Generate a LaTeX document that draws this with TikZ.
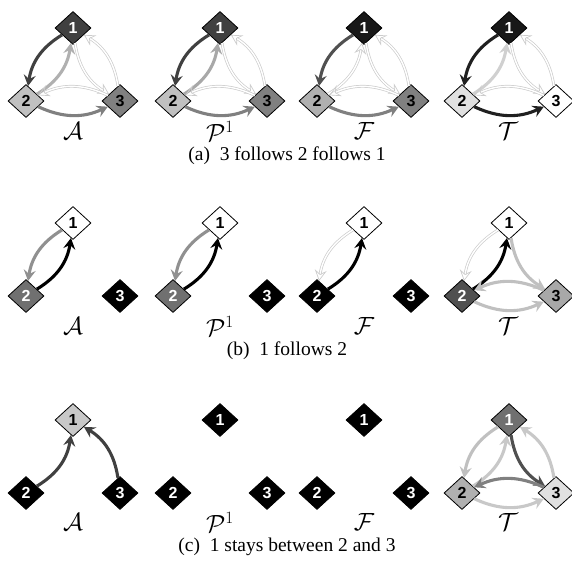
\documentclass[tikz,border=0pt]{standalone}
\usepackage{fontspec}
\setmainfont{Liberation Serif}
\setsansfont{Liberation Sans}
\usetikzlibrary{shapes.geometric,arrows.meta}
\definecolor{gA}{HTML}{404040}
\definecolor{gB}{HTML}{C0C0C0}
\definecolor{gC}{HTML}{808080}
\definecolor{gD}{HTML}{181818}
\definecolor{gE}{HTML}{E0E0E0}
\definecolor{gF}{HTML}{707070}
\definecolor{gG}{HTML}{505050}
\definecolor{gH}{HTML}{A8A8A8}
\definecolor{gI}{HTML}{B0B0B0}
\definecolor{gJ}{HTML}{C8C8C8}
\definecolor{gK}{HTML}{909090}
\definecolor{gL}{HTML}{D0D0D0}
\definecolor{gM}{HTML}{202020}
\newcommand\trio[6]{%
  \node[nd,#4] (#1-1) at (73+#2,28+#3) {1};
  \node[nd,#5] (#1-2) at (26+#2,101+#3) {2};
  \node[nd,#6] (#1-3) at (120+#2,101+#3) {3};}
\begin{document}
\begin{tikzpicture}[x=1pt,y=-1pt,
  nd/.style={diamond,draw=black,line width=0.8pt,inner sep=0pt,minimum width=36pt,minimum height=33pt,font=\sffamily\bfseries\fontsize{16}{16}\selectfont},
  dk/.style={fill=#1,text=white},
  lt/.style={fill=#1,text=black},
  ed/.style={line width=3.1pt,-{Stealth[length=11pt,width=12pt,inset=4pt]},bend right=25},
  weak/.style={draw=black!20,double=white,double distance=1.4pt,line width=0.7pt,-{Stealth[length=11pt,width=12pt,inset=4pt,open]},bend right=25},
  lbl/.style={font=\fontsize{23}{23}\selectfont},
  captext/.style={font=\fontsize{19.5}{19.5}\selectfont}]
\useasboundingbox (0,0) rectangle (572,578);
% ---------- row (a)
\trio{aA}{0}{0}{dk=gA}{lt=gB}{lt=gC}
\trio{aP}{147}{0}{dk=gA}{lt=gB}{lt=gC}
\trio{aF}{291}{0}{dk=gD}{lt=gI}{lt=gC}
\trio{aT}{436}{0}{dk=gD}{lt=gE}{lt=white}
\draw[ed,draw=gA] (aA-1) to (aA-2);
\draw[ed,draw=gI] (aA-2) to (aA-1);
\draw[weak] (aA-1) to (aA-3);
\draw[weak] (aA-3) to (aA-1);
\draw[ed,draw=gC] (aA-2) to (aA-3);
\draw[weak] (aA-3) to (aA-2);
\draw[ed,draw=gA] (aP-1) to (aP-2);
\draw[ed,draw=gH] (aP-2) to (aP-1);
\draw[weak] (aP-1) to (aP-3);
\draw[weak] (aP-3) to (aP-1);
\draw[ed,draw=gC] (aP-2) to (aP-3);
\draw[weak] (aP-3) to (aP-2);
\draw[ed,draw=gG] (aF-1) to (aF-2);
\draw[weak] (aF-2) to (aF-1);
\draw[weak] (aF-1) to (aF-3);
\draw[weak] (aF-3) to (aF-1);
\draw[ed,draw=gC] (aF-2) to (aF-3);
\draw[weak] (aF-3) to (aF-2);
\draw[ed,draw=gM] (aT-1) to (aT-2);
\draw[ed,draw=gL] (aT-2) to (aT-1);
\draw[weak] (aT-1) to (aT-3);
\draw[weak] (aT-3) to (aT-1);
\draw[ed,draw=gM] (aT-2) to (aT-3);
\draw[weak] (aT-3) to (aT-2);
\node[lbl] (laA) at (73,131) {$\mathcal{A}$};
\node[lbl] (laP) at (220,131) {$\mathcal{P}^1$};
\node[lbl] (laF) at (364,131) {$\mathcal{F}$};
\node[lbl] (laT) at (508,131) {$\mathcal{T}$};
\node[captext] (ca) at (287,156) {(a)\enspace 3 follows 2 follows 1};
% ---------- row (b)
\trio{bA}{0}{195}{lt=white}{dk=gF}{dk=black}
\trio{bP}{147}{195}{lt=white}{dk=gF}{dk=black}
\trio{bF}{291}{195}{lt=white}{dk=black}{dk=black}
\trio{bT}{436}{195}{lt=white}{dk=gG}{lt=gH}
\draw[ed,draw=gK] (bA-1) to (bA-2);
\draw[ed,draw=black] (bA-2) to (bA-1);
\draw[ed,draw=gK] (bP-1) to (bP-2);
\draw[ed,draw=black] (bP-2) to (bP-1);
\draw[weak] (bF-1) to (bF-2);
\draw[ed,draw=black] (bF-2) to (bF-1);
\draw[weak] (bT-1) to (bT-2);
\draw[ed,draw=black] (bT-2) to (bT-1);
\draw[ed,draw=gB] (bT-1) to (bT-3);
\draw[ed,draw=gB] (bT-2) to (bT-3);
\draw[ed,draw=gB] (bT-3) to (bT-2);
\node[lbl] (lbA) at (73,326) {$\mathcal{A}$};
\node[lbl] (lbP) at (220,326) {$\mathcal{P}^1$};
\node[lbl] (lbF) at (364,326) {$\mathcal{F}$};
\node[lbl] (lbT) at (508,326) {$\mathcal{T}$};
\node[captext] (cb) at (287,351) {(b)\enspace 1 follows 2};
% ---------- row (c)
\trio{cA}{0}{392}{lt=gJ}{dk=black}{dk=black}
\trio{cP}{147}{392}{dk=black}{dk=black}{dk=black}
\trio{cF}{291}{392}{dk=black}{dk=black}{dk=black}
\trio{cT}{436}{392}{dk=gF}{lt=gI}{lt=gE}
\draw[ed,draw=gA] (cA-2) to (cA-1);
\draw[ed,draw=gA] (cA-3) to (cA-1);
\draw[ed,draw=gB] (cT-1) to (cT-2);
\draw[ed,draw=gJ] (cT-2) to (cT-1);
\draw[ed,draw=gG] (cT-1) to (cT-3);
\draw[ed,draw=gJ] (cT-3) to (cT-1);
\draw[ed,draw=gC] (cT-3) to (cT-2);
\draw[ed,draw=gJ] (cT-2) to (cT-3);
\node[lbl] (lcA) at (73,522) {$\mathcal{A}$};
\node[lbl] (lcP) at (220,522) {$\mathcal{P}^1$};
\node[lbl] (lcF) at (364,522) {$\mathcal{F}$};
\node[lbl] (lcT) at (508,522) {$\mathcal{T}$};
\node[captext] (cc) at (287,547) {(c)\enspace 1 stays between 2 and 3};
\end{tikzpicture}
\end{document}
